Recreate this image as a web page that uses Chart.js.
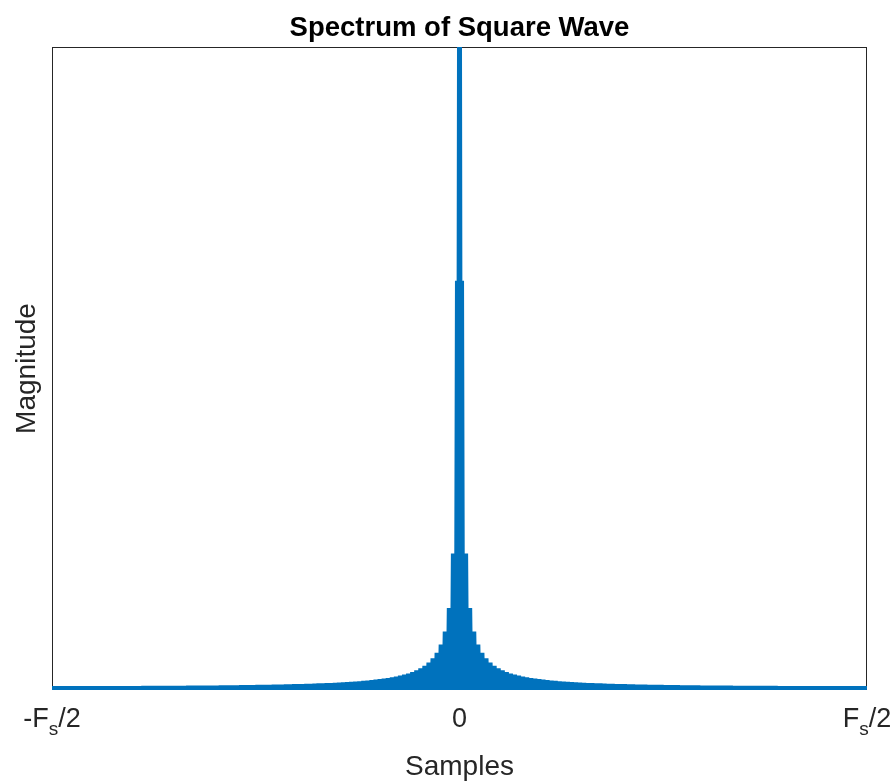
<!DOCTYPE html>
<html>
<head>
<meta charset="utf-8">
<title>Spectrum of Square Wave</title>
<script src="https://cdn.jsdelivr.net/npm/chart.js@4/dist/chart.umd.min.js"></script>
<style>
  html, body { margin: 0; padding: 0; background: #fff; }
  #chart { display: block; }
</style>
</head>
<body>
<canvas id="chart" width="896" height="782"></canvas>
<script>
// Spectrum of a 0/1 square wave (2 periods in the window), fftshifted, DC = 1.
// Only bins at odd multiples of the fundamental carry energy, the rest sit on zero.
const binFirst = -400;
const binLast = 399;
const binsPerHarmonic = 2;
const dcMag = 1;
const zeroMag = 0;
// magnitude of harmonics 1, 3, 5, ... 199 (mirrored for negative frequencies)
const oddMag = [
  0.6366, 0.2122, 0.1274, 0.0910, 0.0708, 0.0579, 0.0491, 0.0425, 0.0376, 0.0336,
  0.0305, 0.0278, 0.0256, 0.0238, 0.0221, 0.0207, 0.0195, 0.0184, 0.0175, 0.0166,
  0.0158, 0.0151, 0.0144, 0.0139, 0.0133, 0.0128, 0.0124, 0.0119, 0.0116, 0.0112,
  0.0108, 0.0105, 0.0102, 0.00995, 0.00969, 0.00945, 0.00922, 0.00900, 0.00879, 0.00860,
  0.00842, 0.00824, 0.00808, 0.00792, 0.00777, 0.00763, 0.00749, 0.00737, 0.00724, 0.00713,
  0.00702, 0.00691, 0.00681, 0.00671, 0.00662, 0.00653, 0.00645, 0.00637, 0.00629, 0.00622,
  0.00615, 0.00608, 0.00601, 0.00595, 0.00589, 0.00584, 0.00578, 0.00573, 0.00568, 0.00563,
  0.00559, 0.00555, 0.00551, 0.00547, 0.00543, 0.00539, 0.00536, 0.00533, 0.00530, 0.00527,
  0.00524, 0.00522, 0.00520, 0.00517, 0.00515, 0.00513, 0.00511, 0.00510, 0.00508, 0.00507,
  0.00506, 0.00504, 0.00503, 0.00503, 0.00502, 0.00501, 0.00501, 0.00500, 0.00500, 0.00500
];

const xTickValues = [-400, 0, 400];
const xTickLabels = ["-F_s/2", "0", "F_s/2"];
const titleText = "Spectrum of Square Wave";
const xLabelText = "Samples";
const yLabelText = "Magnitude";

const FONT = '"Liberation Sans", Arial, Helvetica, sans-serif';
const INK = "#262626";

// build the point table
const points = [];
for(let k=binFirst; k<=binLast; k++){
  let y = zeroMag;
  if(k===0){
    y = dcMag;
  }else if(k % binsPerHarmonic === 0){
    const h = Math.abs(k / binsPerHarmonic);
    if(h % 2 === 1) y = oddMag[(h-1)/2];
  }
  points.push({x:k, y});
}

// draws a label that may hold one "_x" subscript, centred on cx
function drawSubLabel(ctx, text, cx, baseY, size){
  const parts = [];
  const m = text.match(/^(.*?)_(.)(.*)$/);
  if(m){
    parts.push({t:m[1], sub:false}, {t:m[2], sub:true}, {t:m[3], sub:false});
  }else{
    parts.push({t:text, sub:false});
  }
  const subSize = Math.round(size*0.72);
  let total = 0;
  parts.forEach(p=>{
    ctx.font = `${p.sub?subSize:size}px ${FONT}`;
    p.w = ctx.measureText(p.t).width;
    total += p.w;
  });
  let x = cx - total/2;
  ctx.textAlign = "left";
  ctx.textBaseline = "alphabetic";
  parts.forEach(p=>{
    ctx.font = `${p.sub?subSize:size}px ${FONT}`;
    ctx.fillText(p.t, x, p.sub ? baseY + size*0.28 : baseY);
    x += p.w;
  });
}

const matlabFrame = {
  id: "matlabFrame",
  beforeDatasetsDraw(chart){
    const {ctx, chartArea:a} = chart;
    ctx.save();
    ctx.strokeStyle = INK;
    ctx.lineWidth = 1;
    ctx.strokeRect(Math.round(a.left)+0.5, Math.round(a.top)+0.5,
                   Math.round(a.right-a.left)-1, Math.round(a.bottom-a.top)-1);
    // inward tick at the centre
    const px = Math.round(chart.scales.x.getPixelForValue(0))+0.5;
    ctx.beginPath();
    ctx.moveTo(px, a.bottom); ctx.lineTo(px, a.bottom-8);
    ctx.moveTo(px, a.top); ctx.lineTo(px, a.top+8);
    ctx.stroke();
    ctx.restore();
  },
  afterDraw(chart){
    const {ctx, chartArea:a} = chart;
    const xs = chart.scales.x;
    ctx.save();
    ctx.fillStyle = INK;
    xTickValues.forEach((v,i)=>{
      drawSubLabel(ctx, xTickLabels[i], xs.getPixelForValue(v), 727, 27);
    });
    const cx = (a.left+a.right)/2;
    ctx.textAlign = "center";
    ctx.textBaseline = "alphabetic";
    ctx.font = `28px ${FONT}`;
    ctx.fillText(xLabelText, cx, 775);
    ctx.fillStyle = "#000";
    ctx.font = `bold 27.5px ${FONT}`;
    ctx.fillText(titleText, cx, 36);
    ctx.fillStyle = INK;
    ctx.font = `28px ${FONT}`;
    ctx.translate(35, (a.top+a.bottom)/2);
    ctx.rotate(-Math.PI/2);
    ctx.fillText(yLabelText, 0, 0);
    ctx.restore();
  }
};

new Chart(document.getElementById("chart"), {
  type: "line",
  data: {
    datasets: [{
      data: points,
      borderColor: "#0072BD",
      borderWidth: 5,
      borderJoinStyle: "bevel",
      pointRadius: 0,
      tension: 0,
      fill: false
    }]
  },
  options: {
    responsive: false,
    animation: false,
    devicePixelRatio: 1,
    layout: { padding: { left: 52, top: 47, right: 29, bottom: 92 } },
    plugins: { legend: { display: false }, tooltip: { enabled: false }, title: { display: false } },
    scales: {
      x: { type: "linear", min: -400, max: 400, display: false },
      y: { type: "linear", min: 0, max: 1, display: false }
    }
  },
  plugins: [matlabFrame]
});
</script>
</body>
</html>
